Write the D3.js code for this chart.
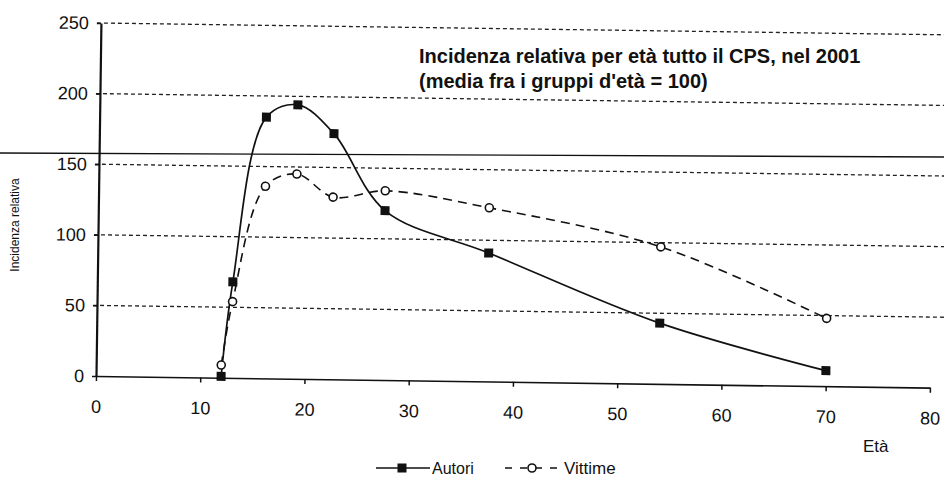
<!DOCTYPE html>
<html>
<head>
  <meta charset="utf-8">
  <script src="https://d3js.org/d3.v7.min.js"></script>
  <style>
    body,html {margin:0; background:#fff;}
    svg {display:block; font-family:"Liberation Sans", Arial, sans-serif;}
  </style>
</head>
<body>
<script>
  // data
  const ages    = [12, 13, 16, 19, 22.5, 27.5, 37.5, 54, 70];
  const autori  = [1, 68, 185, 194, 174, 120, 91, 43, 11];
  const vittime = [9, 54, 136, 145, 129, 134, 123, 97, 48];
  const yTicks  = [0, 50, 100, 150, 200, 250];
  const xTicks  = [0, 10, 20, 30, 40, 50, 60, 70, 80];

  const W = 944, H = 482;

  const svg = d3.select("body").append("svg")
    .attr("width", W)
    .attr("height", H);

  svg.append("rect").attr("width", W).attr("height", H).attr("fill", "#fff");

  const x = d3.scaleLinear().domain([0, 80]).range([96, 930]);
  const y = d3.scaleLinear().domain([0, 250]).range([376, 23]);

  // the scan is slightly tilted, so the plot is too
  const plot = svg.append("g").attr("transform", "rotate(0.8,96,376)");

  // GRID
  plot.selectAll(".grid")
    .data(yTicks.filter(d => d > 0))
    .enter().append("line")
    .attr("x1", x(0) - 4).attr("x2", x(83))
    .attr("y1", d => y(d)).attr("y2", d => y(d))
    .attr("stroke", "#222")
    .attr("stroke-width", 1.3)
    .attr("stroke-dasharray", "4,3");

  // AXES
  const yAxis = plot.append("g")
    .attr("transform", `translate(${x(0)},0)`)
    .call(d3.axisLeft(y).tickValues(yTicks).tickSize(4).tickSizeOuter(0).tickPadding(8));

  const xAxis = plot.append("g")
    .attr("transform", `translate(0,${y(0)})`)
    .call(d3.axisBottom(x).tickValues(xTicks).tickSize(5).tickSizeOuter(0).tickPadding(19));

  [yAxis, xAxis].forEach(a => {
    a.attr("font-family", null).attr("font-size", 18);
    a.selectAll("text").attr("fill", "#111");
    a.selectAll("line").attr("stroke", "#111").attr("stroke-width", 1.5);
  });
  yAxis.select(".domain").attr("stroke", "#111").attr("stroke-width", 2.2);
  xAxis.select(".domain").attr("stroke", "#111").attr("stroke-width", 1.6);

  // SERIES
  const line = d3.line()
    .x((d, i) => x(ages[i]))
    .y(d => y(d))
    .curve(d3.curveCatmullRom.alpha(0.5));

  plot.append("path")
    .datum(vittime)
    .attr("d", line)
    .attr("fill", "none")
    .attr("stroke", "#111")
    .attr("stroke-width", 1.6)
    .attr("stroke-dasharray", "9,6");

  plot.append("path")
    .datum(autori)
    .attr("d", line)
    .attr("fill", "none")
    .attr("stroke", "#111")
    .attr("stroke-width", 1.7);

  plot.selectAll(".aut")
    .data(autori)
    .enter().append("rect")
    .attr("x", (d, i) => x(ages[i]) - 4.5)
    .attr("y", d => y(d) - 4.5)
    .attr("width", 9).attr("height", 9)
    .attr("fill", "#111");

  plot.selectAll(".vit")
    .data(vittime)
    .enter().append("circle")
    .attr("cx", (d, i) => x(ages[i]))
    .attr("cy", d => y(d))
    .attr("r", 4)
    .attr("fill", "#fff")
    .attr("stroke", "#111")
    .attr("stroke-width", 1.6);

  // fold line across the scanned page
  svg.append("line")
    .attr("x1", 0).attr("y1", 153).attr("x2", W).attr("y2", 157)
    .attr("stroke", "#111").attr("stroke-width", 1.3);

  // TEXTS
  const title = svg.append("text")
    .attr("x", 419).attr("y", 63)
    .attr("font-size", 20).attr("font-weight", "bold").attr("fill", "#111");
  title.append("tspan").attr("x", 419).attr("y", 63)
    .text("Incidenza relativa per età tutto il CPS, nel 2001");
  title.append("tspan").attr("x", 419).attr("y", 88)
    .text("(media fra i gruppi d'età = 100)");

  svg.append("text")
    .attr("transform", "translate(19,225) rotate(-90)")
    .attr("text-anchor", "middle")
    .attr("font-size", 12)
    .attr("fill", "#111")
    .text("Incidenza relativa");

  svg.append("text")
    .attr("x", 863).attr("y", 452)
    .attr("font-size", 17)
    .attr("fill", "#111")
    .text("Età");

  // LEGEND
  const ly = 468;
  const leg = svg.append("g");
  leg.append("line").attr("x1", 376).attr("x2", 430).attr("y1", ly).attr("y2", ly)
    .attr("stroke", "#111").attr("stroke-width", 1.5);
  leg.append("rect").attr("x", 397.5).attr("y", ly - 4.5).attr("width", 9).attr("height", 9).attr("fill", "#111");
  leg.append("text").attr("x", 432).attr("y", ly + 6).attr("font-size", 16).attr("fill", "#111").text("Autori");

  leg.append("line").attr("x1", 505).attr("x2", 560).attr("y1", ly).attr("y2", ly)
    .attr("stroke", "#111").attr("stroke-width", 1.5).attr("stroke-dasharray", "7,8");
  leg.append("circle").attr("cx", 532).attr("cy", ly).attr("r", 4)
    .attr("fill", "#fff").attr("stroke", "#111").attr("stroke-width", 1.6);
  leg.append("text").attr("x", 564).attr("y", ly + 6).attr("font-size", 17).attr("fill", "#111").text("Vittime");
</script>
</body>
</html>
